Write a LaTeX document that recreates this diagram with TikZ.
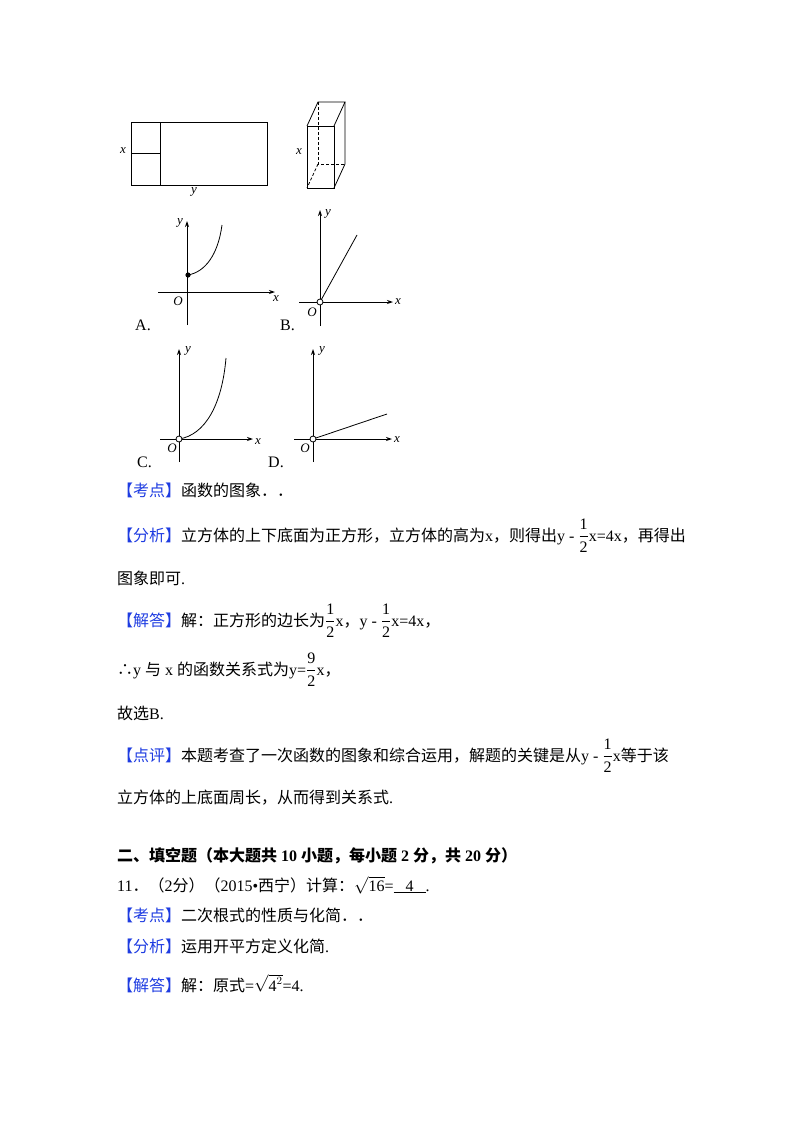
\documentclass[tikz,border=0pt]{standalone}
\usepackage{fontspec}
\setmainfont{Liberation Serif}
\newfontfamily\cjk{Noto Sans CJK SC}
\usetikzlibrary{arrows.meta}
\definecolor{kblue}{RGB}{30,60,225}
\newcommand{\kb}[1]{{\color{kblue}【#1】}}
\newcommand{\fr}[2]{$\displaystyle\frac{\mbox{\rmfamily #1}}{\mbox{\rmfamily #2}}$}
\newcommand{\hf}{\fr{1}{2}}
\begin{document}
\begin{tikzpicture}[x=1pt,y=-1pt,
  ln/.style={line width=0.8pt},
  ax/.style={line width=0.9pt,-{Stealth[length=6pt,width=4pt]}},
  lab/.style={font=\itshape\fontsize{13}{13}\selectfont,inner sep=0pt},
  txt/.style={anchor=base west,inner sep=0pt,font=\fontsize{16}{16}\selectfont},
  oc/.style={circle,draw,fill=white,inner sep=0pt,minimum size=6pt,line width=0.8pt}]
\useasboundingbox (0,0) rectangle (800,1132);
% rectangle
\draw[ln] (131,122) rectangle (267,185);
\draw[ln] (160,122) -- (160,185);
\draw[ln] (131,153) -- (160,153);
\node[lab] (rx) at (123,151) {x};
\node[lab] (ry) at (194,192) {y};
% box
\draw[ln] (307,126) rectangle (334,188);
\draw[ln] (307,126) -- (318,102) -- (345,102) -- (334,126);
\draw[ln] (345,102) -- (345,164) -- (334,188);
\draw[ln,densely dashed] (318,102) -- (318,164) -- (345,164);
\draw[ln,densely dashed] (318,164) -- (307,188);
\node[lab] (bx) at (299,152) {x};
% Graph A
\draw[ax] (158,292) -- (275,292);
\draw[ax] (187,325) -- (187,221);
\draw[ln] (188,275) .. controls (205,272) and (218,255) .. (222,225);
\fill (188,275) circle (2.6pt);
\node[lab] at (178,301) {O};
\node[lab] at (276,299) {x};
\node[lab] at (180,223) {y};
\node[txt] at (135,330) {A.};
% Graph B
\draw[ax] (299,302) -- (393,302);
\draw[ax] (320,326) -- (320,210);
\draw[ln] (320,302) -- (357,235);
\node[oc] at (320,302) {};
\node[lab] at (312,312) {O};
\node[lab] at (398,302) {x};
\node[lab] at (328,214) {y};
\node[txt] at (280,330) {B.};
% Graph C
\draw[ax] (160,439) -- (253,439);
\draw[ax] (179,462) -- (179,349);
\draw[ln] (179,439) .. controls (205,435) and (222,405) .. (226,358);
\node[oc] at (179,439) {};
\node[lab] at (172,448) {O};
\node[lab] at (258,442) {x};
\node[lab] at (188,351) {y};
\node[txt] at (137,467) {C.};
% Graph D
\draw[ax] (294,439) -- (392,439);
\draw[ax] (313,462) -- (313,349);
\draw[ln] (313,439) -- (387,414);
\node[oc] at (313,439) {};
\node[lab] at (305,448) {O};
\node[lab] at (397,440) {x};
\node[lab] at (322,351) {y};
\node[txt] at (268,467) {D.};
% text
\node[txt] (t1) at (117,496) {\cjk\kb{考点}函数的图象．．};
\node[txt] (t2) at (117,541) {\cjk\kb{分析}立方体的上下底面为正方形，立方体的高为{\rmfamily x}，则得出{\rmfamily y - }\hf{\rmfamily x=4x}，再得出};
\node[txt] (t3) at (117,584) {\cjk 图象即可{\rmfamily .}};
\node[txt] (t4) at (117,626) {\cjk\kb{解答}解：正方形的边长为\hf{\rmfamily x}，{\rmfamily y - }\hf{\rmfamily x=4x}，};
\node[txt] (t5) at (117,675) {{\cjk ∴}{\rmfamily y} {\cjk 与} {\rmfamily x} {\cjk 的函数关系式为}{\rmfamily y=}\fr{9}{2}{\rmfamily x}{\cjk ，}};
\node[txt] (t6) at (117,719) {\cjk 故选{\rmfamily B.}};
\node[txt] (t7) at (117,761) {\cjk\kb{点评}本题考查了一次函数的图象和综合运用，解题的关键是从{\rmfamily y - }\hf{\rmfamily x}等于该};
\node[txt] (t8) at (117,803) {\cjk 立方体的上底面周长，从而得到关系式{\rmfamily .}};
\node[txt] (t9) at (117,861) {\cjk\bfseries 二、填空题（本大题共{\rmfamily\bfseries\ 10 }小题，每小题{\rmfamily\bfseries\ 2 }分，共{\rmfamily\bfseries\ 20 }分）};
\node[txt] (t10) at (117,891) {{\rmfamily 11}{\cjk ．（}{\rmfamily 2}{\cjk 分）（}{\rmfamily 2015•}{\cjk 西宁）计算：}{\rmfamily $\sqrt{\mbox{16}}$=\underline{\hspace{12pt}4\hspace{12pt}}.}};
\node[txt] (t11) at (117,921) {\cjk\kb{考点}二次根式的性质与化简．．};
\node[txt] (t12) at (117,952) {\cjk\kb{分析}运用开平方定义化简{\rmfamily .}};
\node[txt] (t13) at (117,991) {\cjk\kb{解答}解：原式{\rmfamily =$\sqrt{\mbox{4}^2}$=4.}};
\end{tikzpicture}
\end{document}
